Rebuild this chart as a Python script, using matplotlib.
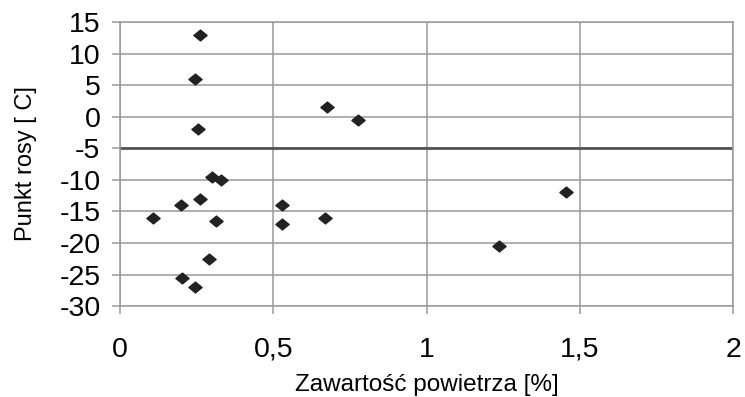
import numpy as np
import matplotlib.pyplot as plt
from matplotlib.path import Path

plt.rcParams['font.family'] = ['Liberation Sans', 'DejaVu Sans']
plt.rcParams['axes.unicode_minus'] = False

# air content [%] and dew point [C]
air_content = [0.26, 0.245, 0.255, 0.675, 0.775, 0.30, 0.33, 0.26, 0.20, 0.108,
               0.312, 0.29, 0.203, 0.245, 0.53, 0.53, 0.67, 1.456, 1.235]
dew_point = [13, 6, -2, 1.5, -0.5, -9.5, -10, -13, -14, -16,
             -16.5, -22.5, -25.5, -27, -14, -17, -16, -12, -20.5]
limit_line = -5

x_ticks = [0, 0.5, 1, 1.5, 2]
x_labels = ['0', '0,5', '1', '1,5', '2']
y_ticks = list(range(-30, 16, 5))

grid_col = '#9a9a9a'

# slightly flattened diamond
diamond = Path([(-1, 0), (0, -0.82), (1, 0), (0, 0.82), (-1, 0)],
               [Path.MOVETO, Path.LINETO, Path.LINETO, Path.LINETO, Path.CLOSEPOLY])

fig = plt.figure(figsize=(7.45, 3.97), dpi=100)
ax = fig.add_axes([0.161, 0.229, 0.823, 0.7156])

ax.set_xlim(0, 2)
ax.set_ylim(-30, 15)
ax.set_xticks(x_ticks)
ax.set_xticklabels(x_labels)
ax.set_yticks(y_ticks)

ax.grid(True, color=grid_col, linewidth=1.1)
ax.set_axisbelow(True)
for side in ['top', 'right', 'left', 'bottom']:
    ax.spines[side].set_color(grid_col)
    ax.spines[side].set_linewidth(1.1)

ax.tick_params(axis='both', direction='out', length=6, width=1.1,
               color=grid_col, labelsize=20.5, pad=8)
ax.tick_params(axis='x', pad=16)

ax.axhline(limit_line, color='#555555', linewidth=2.0, zorder=2)

ax.plot(air_content, dew_point, linestyle='none', marker=diamond,
        markersize=9.5, color='#222222', zorder=3, clip_on=False)

ax.set_xlabel('Zawartość powietrza [%]', fontsize=17.5, labelpad=8)
ax.set_ylabel('Punkt rosy [ C]', fontsize=17, labelpad=16)

fig.savefig('out.png', dpi=100)
